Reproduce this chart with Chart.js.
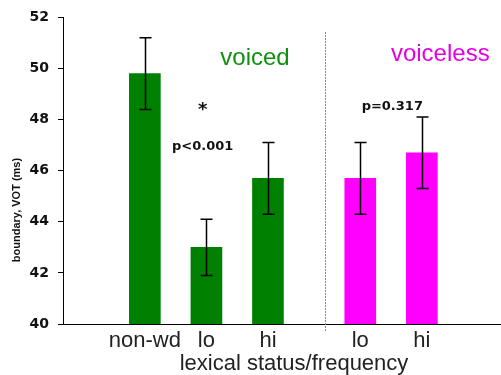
<!DOCTYPE html>
<html>
<head>
<meta charset="utf-8">
<script src="https://cdn.jsdelivr.net/npm/chart.js@4"></script>
<style>
  body { margin: 0; background: #fff; }
  canvas { display: block; }
</style>
</head>
<body>
<canvas id="VotChart" width="501" height="375"></canvas>
<script>
// data
let Categories = ["non-wd", "lo", "hi", "lo", "hi"];
let Groups = ["voiced", "voiced", "voiced", "voiceless", "voiceless"];
let XValues = [0, 1, 2, 3.5, 4.5];       // voiceless group sits after a gap
let Boundary = [49.8, 43.0, 45.7, 45.7, 46.7];
let ErrorBars = [1.4, 1.1, 1.4, 1.4, 1.4];
let YTicks = [40, 42, 44, 46, 48, 50, 52];

const green = "#008000";
const magenta = "#ff00ff";
const barColors = Groups.map(g => g == "voiced" ? green : magenta);

const points = XValues.map((x, i) => ({x: x, y: Boundary[i]}));

// error bars, separator and text labels
const extras = {
    id: "extras",
    afterDatasetsDraw(chart) {
        const ctx = chart.ctx;
        const xs = chart.scales.x;
        const ys = chart.scales.y;
        ctx.save();
        ctx.strokeStyle = "#000";
        ctx.lineWidth = 1.5;
        XValues.forEach((xv, i) => {
            const px = Math.round(xs.getPixelForValue(xv)) + 0.5;
            const top = ys.getPixelForValue(Boundary[i] + ErrorBars[i]);
            const bot = ys.getPixelForValue(Boundary[i] - ErrorBars[i]);
            ctx.beginPath();
            ctx.moveTo(px, top); ctx.lineTo(px, bot);
            ctx.moveTo(px - 6, top); ctx.lineTo(px + 6, top);
            ctx.moveTo(px - 6, bot); ctx.lineTo(px + 6, bot);
            ctx.stroke();
        });

        // dotted separator between groups
        const sx = Math.round(xs.getPixelForValue(2.93)) + 0.5;
        ctx.strokeStyle = "#888";
        ctx.lineWidth = 1;
        ctx.setLineDash([2, 1]);
        ctx.beginPath();
        ctx.moveTo(sx, 32); ctx.lineTo(sx, 331);
        ctx.stroke();
        ctx.setLineDash([]);

        ctx.textAlign = "center";
        ctx.textBaseline = "middle";
        ctx.font = "24px 'Liberation Sans'";
        ctx.fillStyle = "#109010";
        ctx.fillText("voiced", xs.getPixelForValue(1.79), 58);
        ctx.fillStyle = "#e600e6";
        ctx.fillText("voiceless", xs.getPixelForValue(4.8), 54);

        ctx.fillStyle = "#111";
        ctx.font = "bold 13px 'DejaVu Sans'";
        ctx.fillText("p<0.001", xs.getPixelForValue(0.94), 147);
        ctx.fillText("p=0.317", xs.getPixelForValue(4.02), 107);
        ctx.font = "bold 18px 'DejaVu Sans'";
        ctx.fillText("*", xs.getPixelForValue(0.94), 110);

        ctx.font = "22px 'Liberation Sans'";
        ctx.fillStyle = "#222";
        ctx.fillText("lexical status/frequency", 294, 364);

        ctx.translate(17, 210);
        ctx.rotate(-Math.PI / 2);
        ctx.font = "bold 11px 'Liberation Sans'";
        ctx.fillStyle = "#111";
        ctx.fillText("boundary, VOT (ms)", 0, 0);
        ctx.restore();
    }
};

new Chart("VotChart", {
    type: "bar",
    data: {
        datasets: [{
            data: points,
            backgroundColor: barColors,
            borderWidth: 0,
            barThickness: 31
        }]
    },
    options: {
        responsive: false,
        animation: false,
        layout: {padding: {top: 17, right: 1, left: 0, bottom: 0}},
        plugins: {legend: {display: false}, tooltip: {enabled: false}},
        scales: {
            x: {
                type: "linear",
                min: -1.33,
                max: 5.77,
                offset: false,
                afterBuildTicks: axis => { axis.ticks = XValues.map(v => ({value: v})); },
                afterFit: axis => { axis.height = 51; },
                ticks: {
                    autoSkip: false,
                    maxRotation: 0,
                    padding: -4,
                    color: "#222",
                    font: {family: "Liberation Sans", size: 22},
                    callback: (v, i) => Categories[i]
                },
                grid: {display: false, offset: false},
                border: {display: true, color: "#000", width: 1}
            },
            y: {
                min: 40,
                max: 52,
                afterBuildTicks: axis => { axis.ticks = YTicks.map(v => ({value: v})); },
                afterFit: axis => { axis.width = 63; },
                ticks: {
                    color: "#111",
                    padding: 9,
                    font: {family: "DejaVu Sans", size: 14, weight: "bold"}
                },
                grid: {drawOnChartArea: false, drawTicks: true, tickLength: 5, color: "#000"},
                border: {display: true, color: "#000", width: 1}
            }
        }
    },
    plugins: [extras]
});
</script>
</body>
</html>
